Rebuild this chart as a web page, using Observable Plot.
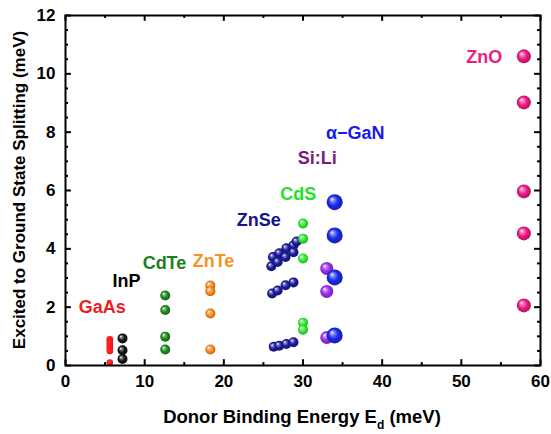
<!DOCTYPE html>
<html>
<head>
<meta charset="utf-8">
<script src="https://cdn.jsdelivr.net/npm/d3@7"></script>
<script src="https://cdn.jsdelivr.net/npm/@observablehq/plot@0.6"></script>
<style>
  body { margin: 0; background: #fff; }
  svg { font-family: "Liberation Sans", Arial, sans-serif; }
</style>
</head>
<body>
<div id="chart"></div>
<script>
// ---- data (meV) ----
const gaasEd = [5.6, 5.6, 5.6, 5.6, 5.6, 5.6, 5.6];
const gaasSplit = [0.9, 0.82, 0.74, 0.66, 0.58, 0.5, 0.1];
const inpEd = [7.2, 7.2, 7.2];
const inpSplit = [0.93, 0.52, 0.22];
const cdteEd = [12.6, 12.6, 12.6, 12.6];
const cdteSplit = [2.4, 1.9, 0.99, 0.55];
const znteEd = [18.3, 18.3, 18.3, 18.3];
const znteSplit = [2.74, 2.55, 1.78, 0.55];
const znseEd = [26.2, 27.0, 27.9, 28.8, 29.2, 26.0, 26.8, 27.8, 28.8, 26.1, 26.8, 27.8, 28.8, 26.3, 27.0, 27.9, 28.8];
const znseSplit = [3.72, 3.85, 4.02, 4.12, 4.25, 3.4, 3.55, 3.72, 3.88, 2.47, 2.57, 2.75, 2.85, 0.64, 0.68, 0.74, 0.8];
const cdsEd = [30.0, 30.0, 30.0, 30.0, 30.0];
const cdsSplit = [4.87, 4.35, 3.67, 1.47, 1.23];
const siliEd = [33.0, 33.0, 33.0];
const siliSplit = [3.33, 2.54, 0.96];
const ganEd = [34.0, 34.0, 34.0, 34.0];
const ganSplit = [5.6, 4.46, 3.02, 1.03];
const znoEd = [57.9, 57.9, 57.9, 57.9, 57.9];
const znoSplit = [10.6, 9.02, 5.97, 4.53, 2.06];

const labelNames = ["GaAs", "InP", "CdTe", "ZnTe", "ZnSe", "CdS", "Si:Li", "α−GaN", "ZnO"];
const labelEd = [4.65, 7.7, 12.5, 18.7, 24.4, 29.4, 31.8, 36.6, 52.9];
const labelSplit = [1.99, 2.88, 3.5, 3.56, 4.99, 5.88, 7.11, 7.97, 10.56];
const labelColors = ["#ee1c24", "#000000", "#1a7f1a", "#f7941d", "#14148c", "#22e022", "#7b1a7f", "#1a1aee", "#ec1c7c"];

const xMajor = [0, 10, 20, 30, 40, 50, 60];
const xMinor = [5, 15, 25, 35, 45, 55];
const yMajor = [0, 2, 4, 6, 8, 10, 12];
const yMinor = [0.5, 1, 1.5, 2.5, 3, 3.5, 4.5, 5, 5.5, 6.5, 7, 7.5, 8.5, 9, 9.5, 10.5, 11, 11.5];

// series: [Ed, split, radius, colour, highlight]
const series = [
  [gaasEd, gaasSplit, 3.3, "#ff1a1a", 0.15],
  [inpEd, inpSplit, 5, "#151515", 1],
  [cdteEd, cdteSplit, 5, "#1d8c1d", 1],
  [znteEd, znteSplit, 5, "#ff8c1a", 1],
  [znseEd, znseSplit, 5, "#1a1a9e", 1],
  [cdsEd, cdsSplit, 5, "#33ee33", 1],
  [siliEd, siliSplit, 6.5, "#9b30f0", 1],
  [ganEd, ganSplit, 8, "#1a2aee", 1],
  [znoEd, znoSplit, 7, "#ee1a84", 1]
];

const marks = [];
series.forEach(([xs, ys, r, c], i) => {
  const pts = xs.map((x, j) => ({x, y: ys[j]}));
  marks.push(Plot.dot(pts, {x: "x", y: "y", r, fill: `url(#ball${i})`, stroke: "none"}));
});

const labels = labelNames.map((n, i) => ({n, x: labelEd[i], y: labelSplit[i], c: labelColors[i]}));
marks.push(Plot.text(labels, {x: "x", y: "y", text: "n", fill: "c", fontSize: 18, fontWeight: "bold"}));

// inward ticks (bottom/top/left/right)
const yt = 0.2, yts = 0.1, xt = 0.75, xts = 0.38;
marks.push(Plot.ruleX(xMajor, {x: d => d, y1: 0, y2: yt, strokeWidth: 2}));
marks.push(Plot.ruleX(xMinor, {x: d => d, y1: 0, y2: yts, strokeWidth: 2}));
marks.push(Plot.ruleX(xMajor, {x: d => d, y1: 12, y2: 12 - yt, strokeWidth: 2}));
marks.push(Plot.ruleX(xMinor, {x: d => d, y1: 12, y2: 12 - yts, strokeWidth: 2}));
marks.push(Plot.ruleY(yMajor, {y: d => d, x1: 0, x2: xt, strokeWidth: 2}));
marks.push(Plot.ruleY(yMinor, {y: d => d, x1: 0, x2: xts, strokeWidth: 2}));
marks.push(Plot.ruleY(yMajor, {y: d => d, x1: 60, x2: 60 - xt, strokeWidth: 2}));
marks.push(Plot.ruleY(yMinor, {y: d => d, x1: 60, x2: 60 - xts, strokeWidth: 2}));
marks.push(Plot.frame({stroke: "black", strokeWidth: 2}));
marks.push(Plot.axisX(xMajor, {tickSize: 0, tickPadding: 9, fontSize: 17, fontWeight: "bold", label: null}));
marks.push(Plot.axisY(yMajor, {tickSize: 0, tickPadding: 10, fontSize: 17, fontWeight: "bold", label: null}));

const chart = Plot.plot({
  width: 551,
  height: 434,
  marginLeft: 65,
  marginRight: 11,
  marginTop: 15,
  marginBottom: 69,
  x: {domain: [0, 60]},
  y: {domain: [0, 12]},
  style: {fontFamily: "'Liberation Sans', Arial, sans-serif", color: "black", background: "white"},
  marks
});

const svg = d3.select(chart);
const defs = svg.insert("defs", ":first-child");
series.forEach(([, , , c, h], i) => {
  const g = defs.append("radialGradient").attr("id", `ball${i}`)
    .attr("cx", "0.5").attr("cy", "0.5").attr("r", "0.55")
    .attr("fx", "0.32").attr("fy", "0.3");
  const col = d3.color(c);
  g.append("stop").attr("offset", "0%").attr("stop-color", d3.interpolateRgb(c, "#ffffff")(h));
  g.append("stop").attr("offset", "22%").attr("stop-color", d3.interpolateRgb(c, "#ffffff")(0.45 * h));
  g.append("stop").attr("offset", "55%").attr("stop-color", c);
  g.append("stop").attr("offset", "100%").attr("stop-color", col.darker(h < 1 ? 0.4 : 1.1).formatHex());
});

// axis titles
const xT = svg.append("text")
  .attr("x", 302).attr("y", 423)
  .attr("text-anchor", "middle")
  .attr("font-size", 18.5).attr("font-weight", "bold").attr("fill", "black");
xT.append("tspan").text("Donor Binding Energy E");
xT.append("tspan").attr("font-size", 12).attr("dy", 6).text("d");
xT.append("tspan").attr("dy", -6).text(" (meV)");

svg.append("text")
  .attr("transform", "translate(25,190) rotate(-90)")
  .attr("text-anchor", "middle")
  .attr("font-size", 17).attr("font-weight", "bold").attr("fill", "black")
  .text("Excited to Ground State Splitting (meV)");

document.getElementById("chart").appendChild(chart);
</script>
</body>
</html>
